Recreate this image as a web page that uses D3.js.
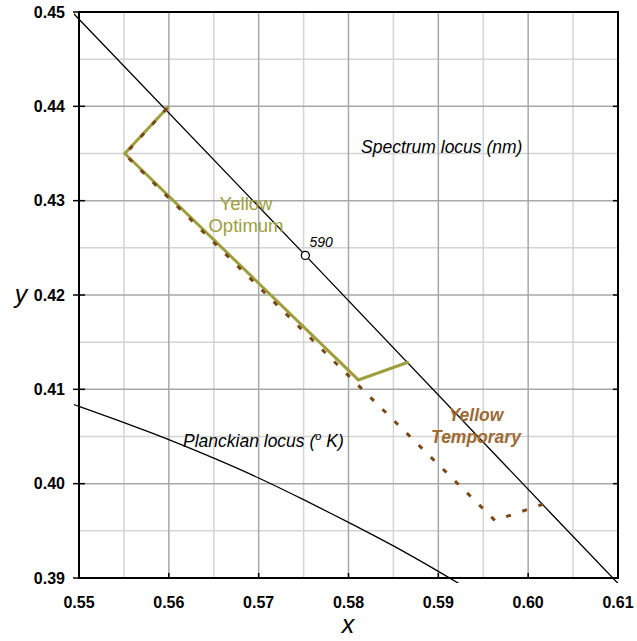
<!DOCTYPE html>
<html>
<head>
<meta charset="utf-8">
<script src="https://cdn.jsdelivr.net/npm/d3@7"></script>
<style>
  body { margin: 0; background: #fff; }
  svg { display: block; font-family: "Liberation Sans", Arial, sans-serif; }
</style>
</head>
<body>
<div id="chart"></div>
<script>
// axis ticks
const xTicks = [0.55, 0.56, 0.57, 0.58, 0.59, 0.60, 0.61];
const yTicks = [0.39, 0.40, 0.41, 0.42, 0.43, 0.44, 0.45];
const xMinor = [0.555, 0.565, 0.575, 0.585, 0.595, 0.605];
const yMinor = [0.395, 0.405, 0.415, 0.425, 0.435, 0.445];

// spectrum locus (585, 590, 595, 600 nm)
const spectrumX = [0.5448, 0.5752, 0.6029, 0.6270];
const spectrumY = [0.4544, 0.4242, 0.3965, 0.3725];
const markerNm = "590";
const markerX = 0.5752;
const markerY = 0.4242;

// Planckian locus
const planckX = [0.545, 0.55, 0.558, 0.565, 0.570, 0.575, 0.580, 0.585, 0.590, 0.595];
const planckY = [0.4098, 0.4082, 0.4054, 0.4027, 0.4006, 0.3983, 0.3959, 0.3934, 0.3907, 0.3879];

// Yellow Optimum region
const optimumX = [0.5600, 0.5551, 0.5811, 0.5867];
const optimumY = [0.4400, 0.4350, 0.4110, 0.4129];

// Yellow Temporary region
const temporaryX = [0.5598, 0.5551, 0.5963, 0.6022];
const temporaryY = [0.4398, 0.4349, 0.3961, 0.3980];

const width = 637, height = 641;
const margin = { top: 12, right: 19, bottom: 63, left: 79 };

const svg = d3.select("#chart").append("svg")
  .attr("width", width)
  .attr("height", height);

const x = d3.scaleLinear().domain([0.55, 0.61]).range([margin.left, width - margin.right]);
const y = d3.scaleLinear().domain([0.39, 0.45]).range([height - margin.bottom, margin.top]);

const olive = "#9e9e3c";
const brownText = "#9c6a34";
const brownDash = "#7a4815";

// minor grid
svg.append("g")
  .selectAll("line").data(xMinor).enter().append("line")
  .attr("x1", d => x(d)).attr("x2", d => x(d))
  .attr("y1", y(0.39)).attr("y2", y(0.45))
  .attr("stroke", "#d4d4d4").attr("stroke-width", 1.5);
svg.append("g")
  .selectAll("line").data(yMinor).enter().append("line")
  .attr("y1", d => y(d)).attr("y2", d => y(d))
  .attr("x1", x(0.55)).attr("x2", x(0.61))
  .attr("stroke", "#d4d4d4").attr("stroke-width", 1.5);

// major grid
svg.append("g")
  .selectAll("line").data(xTicks).enter().append("line")
  .attr("x1", d => x(d)).attr("x2", d => x(d))
  .attr("y1", y(0.39)).attr("y2", y(0.45))
  .attr("stroke", "#a8a8a8").attr("stroke-width", 1.5);
svg.append("g")
  .selectAll("line").data(yTicks).enter().append("line")
  .attr("y1", d => y(d)).attr("y2", d => y(d))
  .attr("x1", x(0.55)).attr("x2", x(0.61))
  .attr("stroke", "#a8a8a8").attr("stroke-width", 1.5);

// clip a bit wider than the frame, lines run slightly past it
svg.append("clipPath").attr("id", "clip")
  .append("rect")
  .attr("x", margin.left - 5).attr("y", margin.top)
  .attr("width", width - margin.left - margin.right + 9)
  .attr("height", height - margin.top - margin.bottom + 5);

const line = d3.line().x(d => x(d[0])).y(d => y(d[1]));
const plot = svg.append("g").attr("clip-path", "url(#clip)");

// spectrum locus
plot.append("path")
  .datum(d3.zip(spectrumX, spectrumY))
  .attr("d", line)
  .attr("fill", "none").attr("stroke", "#000").attr("stroke-width", 1.3);

// planckian locus
plot.append("path")
  .datum(d3.zip(planckX, planckY))
  .attr("d", d3.line().curve(d3.curveNatural).x(d => x(d[0])).y(d => y(d[1])))
  .attr("fill", "none").attr("stroke", "#000").attr("stroke-width", 1.3);

// yellow optimum
plot.append("path")
  .datum(d3.zip(optimumX, optimumY))
  .attr("d", line)
  .attr("fill", "none").attr("stroke", olive).attr("stroke-width", 3)
  .attr("stroke-linejoin", "miter");

// yellow temporary (dashed)
plot.append("path")
  .datum(d3.zip(temporaryX, temporaryY))
  .attr("d", line)
  .attr("fill", "none").attr("stroke", brownDash).attr("stroke-width", 3)
  .attr("stroke-dasharray", "5,12");

// 590 marker
svg.append("circle")
  .attr("cx", x(markerX)).attr("cy", y(markerY)).attr("r", 4)
  .attr("fill", "#fff").attr("stroke", "#000").attr("stroke-width", 1.3);
svg.append("text")
  .attr("x", x(markerX) + 4).attr("y", y(markerY) - 8)
  .attr("font-size", "14px").attr("font-style", "italic")
  .text(markerNm);

// frame
svg.append("rect")
  .attr("x", x(0.55)).attr("y", y(0.45))
  .attr("width", x(0.61) - x(0.55)).attr("height", y(0.39) - y(0.45))
  .attr("fill", "none").attr("stroke", "#000").attr("stroke-width", 2);

// ticks
svg.append("g").selectAll("line").data(yTicks).enter().append("line")
  .attr("x1", x(0.55) - 6).attr("x2", x(0.55) + 6)
  .attr("y1", d => y(d)).attr("y2", d => y(d))
  .attr("stroke", "#000").attr("stroke-width", 1.5);
svg.append("g").selectAll("line").data(yTicks).enter().append("line")
  .attr("x1", x(0.61) - 5).attr("x2", x(0.61))
  .attr("y1", d => y(d)).attr("y2", d => y(d))
  .attr("stroke", "#000").attr("stroke-width", 1.5);
svg.append("g").selectAll("line").data(xTicks).enter().append("line")
  .attr("x1", d => x(d)).attr("x2", d => x(d))
  .attr("y1", y(0.39) - 5).attr("y2", y(0.39))
  .attr("stroke", "#000").attr("stroke-width", 1.5);

// tick labels
const fmt = d3.format(".2f");
svg.append("g").selectAll("text").data(yTicks).enter().append("text")
  .attr("x", 65).attr("y", d => y(d)).attr("dy", "0.36em")
  .attr("text-anchor", "end")
  .attr("font-size", "16px").attr("font-weight", "bold")
  .text(fmt);
svg.append("g").selectAll("text").data(xTicks).enter().append("text")
  .attr("x", d => x(d)).attr("y", 608)
  .attr("text-anchor", "middle")
  .attr("font-size", "16px").attr("font-weight", "bold")
  .text(fmt);

// axis titles
svg.append("text")
  .attr("x", 21).attr("y", 303)
  .attr("text-anchor", "middle")
  .attr("font-size", "25px").attr("font-style", "italic")
  .text("y");
svg.append("text")
  .attr("x", 348).attr("y", 633)
  .attr("text-anchor", "middle")
  .attr("font-size", "25px").attr("font-style", "italic")
  .text("x");

// annotations
svg.append("text")
  .attr("x", 361).attr("y", 153)
  .attr("font-size", "17.5px").attr("font-style", "italic")
  .text("Spectrum locus (nm)");

const pl = svg.append("text")
  .attr("x", 183).attr("y", 447)
  .attr("font-size", "17.5px").attr("font-style", "italic");
pl.append("tspan").text("Planckian locus (");
pl.append("tspan").attr("font-size", "11px").attr("dy", -7).text("o");
pl.append("tspan").attr("dy", 7).text(" K)");

const opt = svg.append("text")
  .attr("text-anchor", "middle")
  .attr("font-size", "18.5px").attr("fill", olive);
opt.append("tspan").attr("x", 246).attr("y", 210).text("Yellow");
opt.append("tspan").attr("x", 246).attr("y", 232).text("Optimum");

const tmp = svg.append("text")
  .attr("text-anchor", "middle")
  .attr("font-size", "17.5px").attr("font-weight", "bold").attr("font-style", "italic")
  .attr("fill", brownText);
tmp.append("tspan").attr("x", 476).attr("y", 421).text("Yellow");
tmp.append("tspan").attr("x", 476).attr("y", 443).text("Temporary");
</script>
</body>
</html>
